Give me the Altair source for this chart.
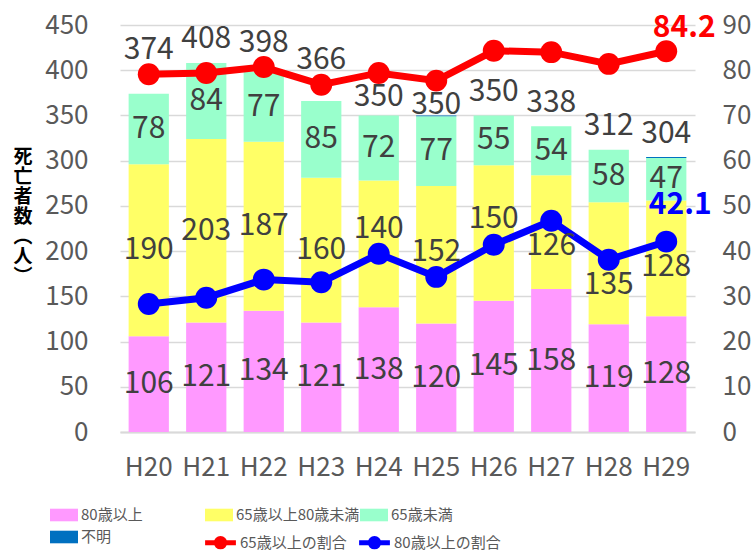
import altair as alt
import pandas as pd

FONT = "Noto Sans CJK JP"

# 年度
years = ["H20", "H21", "H22", "H23", "H24", "H25", "H26", "H27", "H28", "H29"]

# 死亡者数（人）: 年齢区分別
over80 = [106, 121, 134, 121, 138, 120, 145, 158, 119, 128]
age65_79 = [190, 203, 187, 160, 140, 152, 150, 126, 135, 128]
under65 = [78, 84, 77, 85, 72, 77, 55, 54, 58, 47]
unknown = [0, 0, 0, 0, 0, 1, 0, 0, 0, 1]
totals = [374, 408, 398, 366, 350, 350, 350, 338, 312, 304]

# 割合（％）
pct65 = [79.1, 79.4, 80.7, 76.8, 79.4, 77.7, 84.3, 84.0, 81.4, 84.2]
pct80 = [28.3, 29.7, 33.7, 33.1, 39.4, 34.3, 41.4, 46.7, 38.1, 42.1]

bar_cats = ["80歳以上", "65歳以上80歳未満", "65歳未満", "不明"]
bar_colors = ["#FF99FF", "#FFFF66", "#99FFCC", "#0070C0"]
line_cats = ["65歳以上の割合", "80歳以上の割合"]
line_colors = ["#FF0000", "#0000FF"]
y_title = ["死", "亡", "者", "数", "︵", "人", "︶"]

rows = []
for i, y in enumerate(years):
    for k, series in enumerate([over80, age65_79, under65, unknown]):
        rows.append({"year": y, "cat": bar_cats[k], "idx": k, "value": series[i],
                     "p80": pct80[i]})
bar_df = pd.DataFrame(rows)

total_df = pd.DataFrame({"year": years, "total": totals, "p65": pct65})

line_df = pd.DataFrame(
    [{"year": y, "series": line_cats[0], "pct": v} for y, v in zip(years, pct65)]
    + [{"year": y, "series": line_cats[1], "pct": v} for y, v in zip(years, pct80)]
)

title_df = pd.DataFrame({"ch": y_title, "pos": list(range(len(y_title)))})

# left axis units per right axis unit (450 / 90)
K = 5

x_enc = alt.X(
    "year:N",
    sort=years,
    scale=alt.Scale(paddingInner=0.3, paddingOuter=0.15),
    axis=alt.Axis(
        title=None, labelAngle=0, labelFont=FONT, labelFontSize=26,
        labelColor="#595959", labelPadding=22, ticks=False,
        domainColor="#D9D9D9", domainWidth=2, grid=False,
    ),
)

left_scale = alt.Scale(domain=[0, 450], nice=False)
right_scale = alt.Scale(domain=[0, 90], nice=False)

left_axis = alt.Axis(
    orient="left", values=list(range(0, 451, 50)), labelFont=FONT,
    labelFontSize=26, labelColor="#595959", labelPadding=32,
    domain=False, ticks=False, grid=True, gridColor="#D9D9D9", gridWidth=1.3,
    title=None,
)
right_axis = alt.Axis(
    orient="right", values=list(range(0, 91, 10)), labelFont=FONT,
    labelFontSize=26, labelColor="#595959", labelPadding=27,
    domain=False, ticks=False, grid=False, title=None,
)

bars = alt.Chart(bar_df).mark_bar().encode(
    x=x_enc,
    y=alt.Y("value:Q", stack="zero", scale=left_scale, axis=left_axis),
    color=alt.Color(
        "cat:N",
        scale=alt.Scale(domain=bar_cats, range=bar_colors),
        legend=alt.Legend(
            title=None, orient="none", legendX=-70, legendY=476,
            direction="horizontal", columns=3, gridAlign="all",
            columnPadding=0, rowPadding=-2,
            symbolType="M-1,-0.45H1V0.45H-1Z", symbolSize=784,
            symbolStrokeWidth=0, labelFont=FONT, labelFontSize=15,
            labelColor="#595959", labelOffset=3,
        ),
    ),
    order=alt.Order("idx:Q", sort="ascending"),
)

lines = alt.Chart(line_df).mark_line(
    strokeWidth=7, point=alt.OverlayMarkDef(filled=True, size=480)
).encode(
    x=alt.X("year:N", sort=years),
    y=alt.Y("pct:Q", scale=right_scale, axis=right_axis),
    color=alt.Color(
        "series:N",
        scale=alt.Scale(domain=line_cats, range=line_colors),
        legend=alt.Legend(
            title=None, orient="none", legendX=84, legendY=501,
            direction="horizontal", columns=2, gridAlign="all",
            columnPadding=2,
            symbolType="M-1.1,0H1.1M0.3,0A0.3,0.3 0 1,1 -0.3,0A0.3,0.3 0 1,1 0.3,0",
            symbolSize=784, symbolStrokeWidth=5, labelFont=FONT,
            labelFontSize=15, labelColor="#595959", labelOffset=3,
        ),
    ),
)

# 区分ごとの人数: 区分の中央、青線のマーカーと重なる場合は上下へ逃がす
seg_text = (
    alt.Chart(bar_df)
    .transform_window(
        cum="sum(value)", groupby=["year"],
        sort=[alt.SortField("idx", order="ascending")], frame=[None, 0],
    )
    .transform_calculate(mid="datum.cum - datum.value / 2")
    .transform_calculate(
        ly=f"datum.idx == 1 && abs(datum.mid - datum.p80 * {K}) < 27"
           f" ? (datum.mid > datum.p80 * {K} ? datum.p80 * {K} + 28 : datum.p80 * {K} - 28)"
           " : datum.mid"
    )
    .transform_filter("datum.idx < 3")
    .mark_text(font=FONT, fontSize=30, color="#404040", baseline="middle")
    .encode(
        x=alt.X("year:N", sort=years),
        y=alt.Y("ly:Q", scale=left_scale, axis=None),
        text=alt.Text("value:Q"),
    )
)

# 合計人数: 棒の上、赤線のマーカーと重なる場合は上下へ逃がす
total_text = (
    alt.Chart(total_df)
    .transform_calculate(base="datum.total + 26")
    .transform_calculate(
        ly=f"abs(datum.base - datum.p65 * {K}) < 27"
           f" ? (datum.base > datum.p65 * {K} ? datum.p65 * {K} + 27 : datum.p65 * {K} - 27)"
           " : datum.base"
    )
    .mark_text(font=FONT, fontSize=30, color="#404040", baseline="middle")
    .encode(
        x=alt.X("year:N", sort=years),
        y=alt.Y("ly:Q", scale=left_scale, axis=None),
        text=alt.Text("total:Q"),
    )
)

last = years[-1]
red_label = alt.Chart(line_df).transform_filter(
    f"datum.year == '{last}' && datum.series == '{line_cats[0]}'"
).mark_text(
    font=FONT, fontSize=30, fontWeight="bold", color="#FF0000",
    baseline="middle", dx=18, dy=-23,
).encode(
    x=alt.X("year:N", sort=years),
    y=alt.Y("pct:Q", scale=right_scale, axis=None),
    text=alt.Text("pct:Q", format=".1f"),
)
blue_label = alt.Chart(line_df).transform_filter(
    f"datum.year == '{last}' && datum.series == '{line_cats[1]}'"
).mark_text(
    font=FONT, fontSize=30, fontWeight="bold", color="#0000FF",
    baseline="middle", dx=14, dy=-37,
).encode(
    x=alt.X("year:N", sort=years),
    y=alt.Y("pct:Q", scale=right_scale, axis=None),
    text=alt.Text("pct:Q", format=".1f"),
)

# 縦書きの軸タイトル（一文字ずつ縦に並べる）
title_text = alt.Chart(title_df).mark_text(
    font=FONT, fontSize=19, fontWeight="bold", color="#000000",
    align="center", baseline="middle",
).encode(
    x=alt.value(-97),
    y=alt.Y("pos:Q", scale=alt.Scale(domain=[0, 6], range=[132, 252]), axis=None),
    text="ch:N",
)

chart = (
    alt.layer(bars, lines, seg_text, total_text, red_label, blue_label, title_text)
    .resolve_scale(y="independent", color="independent")
    .properties(
        width=575, height=407,
        padding={"left": 120, "top": 25, "right": 58, "bottom": 119},
        autosize=alt.AutoSizeParams(type="none"),
        background="white",
    )
    .configure(font=FONT)
    .configure_view(stroke=None)
)

chart.save("out.html", embed_options={"renderer": "svg", "actions": False})
